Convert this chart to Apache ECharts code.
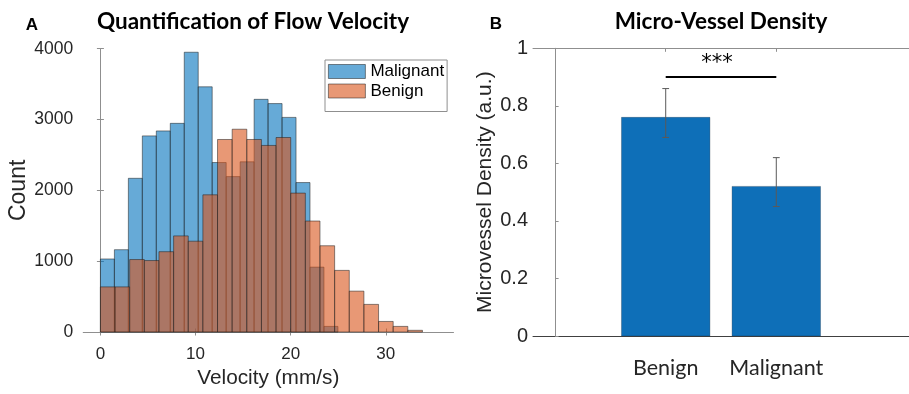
<!DOCTYPE html>
<html>
<head>
<meta charset="utf-8">
<script src="https://cdn.jsdelivr.net/npm/echarts@6/dist/echarts.min.js"></script>
<style>
html,body{margin:0;padding:0;background:#fff;}
#chart{width:909px;height:394px;}
</style>
</head>
<body>
<div id="chart"></div>
<script>
// ---------- Panel A: histogram data ----------
const velocityTicks = [0, 10, 20, 30];
const malignantBinStart = 0;
const malignantBinWidth = 1.469;
const malignantCounts = [1031, 1162, 2170, 2769, 2839, 2946, 3950, 3462, 2393, 2194, 2403, 3285, 3225, 3030, 2110, 916, 79];
const benignBinStart = 0;
const benignBinWidth = 1.539;
const benignCounts = [637, 637, 1023, 1009, 1134, 1357, 1282, 1937, 2718, 2863, 2718, 2634, 2746, 1961, 1567, 1218, 870, 577, 390, 149, 79, 24];

// ---------- Panel B: bar data ----------
const densityCategories = ['Benign', 'Malignant'];
const densityMeans = [0.76, 0.52];
const densityLower = [0.69, 0.45];
const densityUpper = [0.86, 0.62];
const significanceLevel = 0.9;
const significanceLabel = '***';

// build tables
function binTable(start, width, counts) {
  return counts.map((c, i) => [start + i * width, start + (i + 1) * width, c]);
}
const malignantTable = binTable(malignantBinStart, malignantBinWidth, malignantCounts);
const benignTable = binTable(benignBinStart, benignBinWidth, benignCounts);
const densityPositions = densityCategories.map((_, i) => i + 1);
const densityTable = densityCategories.map((_, i) => [densityPositions[i], densityMeans[i], densityLower[i], densityUpper[i]]);

const FRAME = '#8f8f8f';
const TXT = '#262626';
const ARIAL = "'Liberation Sans', Arial, sans-serif";
const CAL = "Lato, sans-serif";

const malignantFill = 'rgba(0,114,189,0.6)';
const benignFill = 'rgba(217,83,25,0.6)';
const edge = 'rgba(30,30,30,0.65)';

function histRender(fill) {
  return function (params, api) {
    const p0 = api.coord([api.value(0), api.value(2)]);
    const p1 = api.coord([api.value(1), 0]);
    return {
      type: 'rect',
      shape: { x: p0[0], y: p0[1], width: p1[0] - p0[0], height: p1[1] - p0[1] },
      style: { fill: fill, stroke: edge, lineWidth: 0.8 }
    };
  };
}

const chart = echarts.init(document.getElementById('chart'));
chart.setOption({
  animation: false,
  backgroundColor: '#fff',
  graphic: [
    { type: 'text', x: 32, y: 25.5, style: { text: 'A', font: "bold 17px 'Liberation Sans'", fill: '#000', align: 'center', verticalAlign: 'middle' } },
    { type: 'text', x: 253, y: 22, style: { text: 'Quantification of Flow Velocity', font: 'bold 22.5px Lato', fill: '#000', align: 'center', verticalAlign: 'middle' } },
    { type: 'text', x: 496, y: 24.5, style: { text: 'B', font: "bold 17px 'Liberation Sans'", fill: '#000', align: 'center', verticalAlign: 'middle' } },
    { type: 'text', x: 721, y: 21.5, style: { text: 'Micro-Vessel Density', font: 'bold 22.5px Lato', fill: '#000', align: 'center', verticalAlign: 'middle' } }
  ],
  legend: {
    left: 325, top: 60,
    orient: 'vertical',
    itemWidth: 37, itemHeight: 14, itemGap: 2.5,
    padding: [3, 3, 12, 3],
    backgroundColor: '#fff',
    borderColor: FRAME, borderWidth: 1, borderRadius: 0,
    textStyle: { fontFamily: ARIAL, fontSize: 17, color: '#000', lineHeight: 14 },
    data: [
      { name: 'Malignant', icon: 'rect', itemStyle: { color: malignantFill, borderColor: edge, borderWidth: 0.8 } },
      { name: 'Benign', icon: 'rect', itemStyle: { color: benignFill, borderColor: edge, borderWidth: 0.8 } }
    ]
  },
  grid: [
    { left: 83.3, top: 48.7, width: 370, height: 287 },
    { left: 533, top: 48.3, width: 383, height: 287.7 }
  ],
  xAxis: [
    {
      gridIndex: 0, type: 'value', min: -1.8, max: 37.1, position: 'bottom',
      axisLine: { lineStyle: { color: FRAME, width: 1 } },
      axisTick: { inside: true, length: 3.5, customValues: velocityTicks, lineStyle: { color: FRAME } },
      axisLabel: { customValues: velocityTicks, fontFamily: ARIAL, fontSize: 17, color: TXT, margin: 14 },
      splitLine: { show: false },
      name: 'Velocity (mm/s)', nameLocation: 'middle', nameGap: 36,
      nameTextStyle: { fontFamily: ARIAL, fontSize: 20.8, color: TXT }
    },
    {
      gridIndex: 0, type: 'value', min: -1.8, max: 37.1, position: 'top',
      axisLine: { show: true, lineStyle: { color: FRAME, width: 1 } },
      axisTick: { inside: true, length: 3.5, customValues: velocityTicks, lineStyle: { color: FRAME } },
      axisLabel: { show: false }, splitLine: { show: false }
    },
    {
      gridIndex: 1, type: 'value', min: -0.2, max: 3.2, position: 'bottom',
      axisLine: { lineStyle: { color: '#404040', width: 1 } },
      axisTick: { inside: true, length: 3.5, customValues: densityPositions, lineStyle: { color: '#404040' } },
      axisLabel: {
        customValues: densityPositions,
        formatter: v => densityCategories[Math.round(v) - 1] || '',
        fontFamily: CAL, fontSize: 21.5, color: TXT, margin: 21
      },
      splitLine: { show: false }
    },
    {
      gridIndex: 1, type: 'value', min: -0.2, max: 3.2, position: 'top',
      axisLine: { show: true, lineStyle: { color: FRAME, width: 1 } },
      axisTick: { inside: true, length: 3.5, customValues: densityPositions, lineStyle: { color: FRAME } },
      axisLabel: { show: false }, splitLine: { show: false }
    }
  ],
  yAxis: [
    {
      gridIndex: 0, type: 'value', min: 0, max: 4000, interval: 1000, position: 'left',
      axisLine: { show: true, lineStyle: { color: FRAME, width: 1 } },
      axisTick: { show: true, inside: true, length: 3.5, lineStyle: { color: FRAME } },
      axisLabel: { formatter: v => String(v), fontFamily: ARIAL, fontSize: 17.5, color: TXT, margin: 10 },
      splitLine: { show: false },
      name: 'Count', nameLocation: 'middle', nameGap: 53,
      nameTextStyle: { fontFamily: ARIAL, fontSize: 23, color: TXT }
    },
    {
      gridIndex: 0, type: 'value', min: 0, max: 4000, interval: 1000, position: 'right',
      axisLine: { show: true, lineStyle: { color: FRAME, width: 1 } },
      axisTick: { show: true, inside: true, length: 3.5, lineStyle: { color: FRAME } },
      axisLabel: { show: false }, splitLine: { show: false }
    },
    {
      gridIndex: 1, type: 'value', min: 0, max: 1, interval: 0.2, position: 'left',
      axisLine: { show: true, lineStyle: { color: FRAME, width: 1 } },
      axisTick: { show: true, inside: true, length: 3.5, lineStyle: { color: FRAME } },
      axisLabel: { fontFamily: ARIAL, fontSize: 20, color: TXT, margin: 5 },
      splitLine: { show: false },
      name: 'Microvessel Density (a.u.)', nameLocation: 'middle', nameGap: 37,
      nameTextStyle: { fontFamily: ARIAL, fontSize: 21, color: TXT }
    }
  ],
  series: [
    {
      name: 'Malignant', type: 'custom', xAxisIndex: 0, yAxisIndex: 0,
      itemStyle: { color: malignantFill },
      encode: { x: [0, 1], y: 2 },
      data: malignantTable,
      renderItem: histRender(malignantFill)
    },
    {
      name: 'Benign', type: 'custom', xAxisIndex: 0, yAxisIndex: 0,
      itemStyle: { color: benignFill },
      encode: { x: [0, 1], y: 2 },
      data: benignTable,
      renderItem: histRender(benignFill)
    },
    {
      name: 'Density', type: 'custom', xAxisIndex: 2, yAxisIndex: 2,
      encode: { x: 0, y: [1, 2, 3] },
      data: densityTable,
      renderItem: function (params, api) {
        const x = api.value(0);
        const top = api.coord([x - 0.4, api.value(1)]);
        const base = api.coord([x + 0.4, 0]);
        const lo = api.coord([x, api.value(2)]);
        const hi = api.coord([x, api.value(3)]);
        const cap = 3.4;
        const es = { stroke: '#5a5a5a', lineWidth: 1 };
        return {
          type: 'group',
          children: [
            { type: 'rect', shape: { x: top[0], y: top[1], width: base[0] - top[0], height: base[1] - top[1] },
              style: { fill: '#0e6fb8', stroke: 'rgba(20,40,60,0.5)', lineWidth: 0.6 } },
            { type: 'line', shape: { x1: lo[0], y1: lo[1], x2: hi[0], y2: hi[1] }, style: es },
            { type: 'line', shape: { x1: hi[0] - cap, y1: hi[1], x2: hi[0] + cap, y2: hi[1] }, style: es },
            { type: 'line', shape: { x1: lo[0] - cap, y1: lo[1], x2: lo[0] + cap, y2: lo[1] }, style: es }
          ]
        };
      }
    },
    {
      name: 'Significance', type: 'custom', xAxisIndex: 2, yAxisIndex: 2,
      encode: { x: [0, 1], y: 2 },
      data: [[densityPositions[0], densityPositions[1], significanceLevel]],
      renderItem: function (params, api) {
        const a = api.coord([api.value(0), api.value(2)]);
        const b = api.coord([api.value(1), api.value(2)]);
        return {
          type: 'group',
          children: [
            { type: 'line', shape: { x1: a[0], y1: a[1], x2: b[0], y2: b[1] }, style: { stroke: '#000', lineWidth: 2 } },
            { type: 'text', x: (a[0] + b[0]) / 2 - 4, y: a[1] - 13.5,
              style: { text: significanceLabel, font: "21px 'DejaVu Sans'", fill: '#000', align: 'center', verticalAlign: 'middle' } }
          ]
        };
      }
    }
  ]
});
</script>
</body>
</html>
